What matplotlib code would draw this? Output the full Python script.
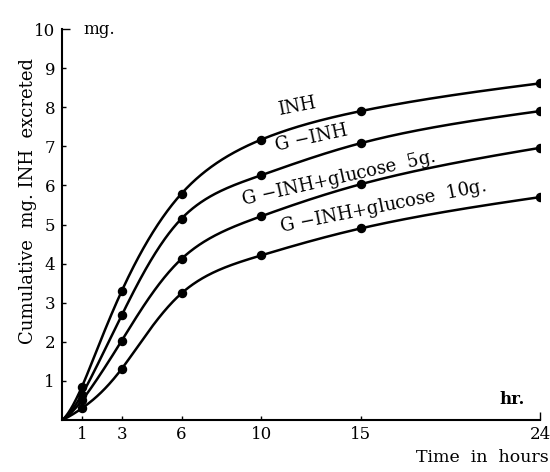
#!/usr/bin/env python3
import matplotlib
matplotlib.use('Agg')
import matplotlib.pyplot as plt
import numpy as np

# Sampling times (hours) and cumulative INH excreted (mg)
hours = [1, 3, 6, 10, 15, 24]
inh = [0.85, 3.30, 5.79, 7.17, 7.90, 8.61]
g_inh = [0.65, 2.68, 5.15, 6.26, 7.08, 7.90]
g_inh_glu5 = [0.50, 2.03, 4.12, 5.21, 6.03, 6.96]
g_inh_glu10 = [0.30, 1.31, 3.24, 4.21, 4.90, 5.70]

labels = ['INH', 'G $-$INH', 'G $-$INH+glucose  5g.', 'G $-$INH+glucose  10g.']
series = [inh, g_inh, g_inh_glu5, g_inh_glu10]

# label placement (x, y, angle)
label_pos = [(11.8, 8.03, 11), (12.5, 7.21, 12.3), (13.9, 6.19, 12.7), (16.1, 5.45, 11.3)]

xticks = [1, 3, 6, 10, 15, 24]
yticks = [1, 2, 3, 4, 5, 6, 7, 8, 9, 10]


def smooth(x, y, xs):
	# cubic spline in sqrt(t) so the uneven sampling times are roughly evenly spaced;
	# zero slope at s=0 keeps a finite slope at the origin in t
	s = np.sqrt(np.asarray(x, float))
	y = np.asarray(y, float)
	n = len(s)
	h = np.diff(s)
	A = np.zeros((n, n))
	b = np.zeros(n)
	A[0, 0] = 2*h[0]
	A[0, 1] = h[0]
	b[0] = 6*((y[1]-y[0])/h[0] - 0.0)
	A[-1, -1] = 1
	for k in range(1, n-1):
		A[k, k-1] = h[k-1]
		A[k, k] = 2*(h[k-1] + h[k])
		A[k, k+1] = h[k]
		b[k] = 6*((y[k+1]-y[k])/h[k] - (y[k]-y[k-1])/h[k-1])
	M = np.linalg.solve(A, b)
	ss = np.sqrt(xs)
	i = np.clip(np.searchsorted(s, ss) - 1, 0, n-2)
	t0 = s[i+1] - ss
	t1 = ss - s[i]
	hi = h[i]
	return (M[i]*t0**3 + M[i+1]*t1**3)/(6*hi) \
		+ (y[i]/hi - M[i]*hi/6)*t0 + (y[i+1]/hi - M[i+1]*hi/6)*t1


plt.rcParams['font.family'] = 'DejaVu Serif'
plt.rcParams['mathtext.fontset'] = 'dejavuserif'

fig = plt.figure(figsize=(5.5, 4.72), dpi=100)
ax = fig.add_axes([62/550, 52/472, 478/550, 391/472])

xs = np.linspace(0, 24, 600)
for vals, lab, (lx, ly, rot) in zip(series, labels, label_pos):
	xp = [0] + hours
	yp = [0] + vals
	ax.plot(xs, smooth(xp, yp, xs), color='black', lw=1.8, solid_capstyle='round')
	ax.plot(hours, vals, 'o', color='black', ms=5.8)
	ax.text(lx, ly, lab, rotation=rot, rotation_mode='anchor',
		ha='center', va='center', fontsize=13)

ax.set_xlim(0, 24)
ax.set_ylim(0, 10)
ax.set_xticks(xticks)
ax.set_yticks(yticks)
ax.set_xticklabels([str(v) for v in xticks])
ax.set_yticklabels([str(v) for v in yticks])
ax.tick_params(axis='both', direction='in', length=3, width=1, labelsize=12, pad=5)
ax.tick_params(axis='x', pad=4)
ax.xaxis.get_major_ticks()[-1].tick1line.set_markersize(6)
ax.yaxis.get_major_ticks()[-1].tick1line.set_markersize(6)

for side in ['top', 'right']:
	ax.spines[side].set_visible(False)
for side in ['left', 'bottom']:
	ax.spines[side].set_linewidth(1.5)
ax.patch.set_visible(False)

ax.set_ylabel('Cumulative  mg. INH  excreted', fontsize=13)
ax.yaxis.set_label_coords(-0.052, 0.56)
ax.text(1.1, 10, 'mg.', fontsize=12, va='center', ha='left')
ax.text(22.6, 0.3, 'hr.', fontsize=12, fontweight='bold', ha='center', va='bottom')
fig.text(0.997, 0.03, 'Time  in  hours', fontsize=12.5, ha='right', va='center')

fig.savefig('out.png', dpi=100)
